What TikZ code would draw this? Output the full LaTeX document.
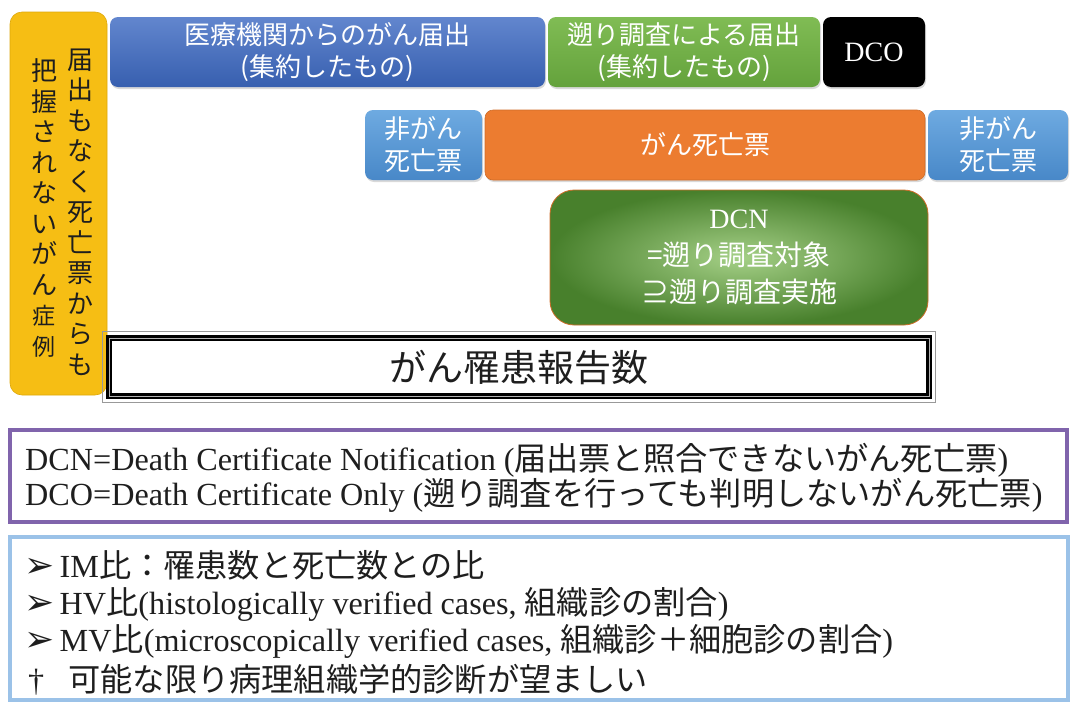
\documentclass[tikz,border=0pt]{standalone}
\usepackage{fontspec}
\setmainfont{Liberation Serif}
\newfontfamily\jp{Noto Sans CJK JP}
\newfontfamily\dv{DejaVu Sans}
\usetikzlibrary{shadows}
\definecolor{cyellow}{RGB}{246,190,20}
\definecolor{cyellowd}{RGB}{222,168,10}
\definecolor{cblue1}{RGB}{98,134,206}
\definecolor{cblue2}{RGB}{55,95,175}
\definecolor{cgreen1}{RGB}{128,188,84}
\definecolor{cgreen2}{RGB}{100,162,60}
\definecolor{corange}{RGB}{236,124,48}
\definecolor{corangeb}{RGB}{206,108,40}
\definecolor{clb1}{RGB}{110,170,225}
\definecolor{clb2}{RGB}{72,136,200}
\definecolor{cdcnin}{RGB}{165,208,135}
\definecolor{cdcnout}{RGB}{72,128,44}
\definecolor{cpurple}{RGB}{128,100,172}
\definecolor{clbline}{RGB}{155,194,232}
\definecolor{ctext}{RGB}{30,30,30}
\tikzset{
  box/.style={rounded corners=8pt, inner sep=0pt, align=center, text=white,
    font=\jp\fontsize{26}{32}\selectfont,
    drop shadow={opacity=0.3, shadow xshift=1pt, shadow yshift=-2pt}},
  bluebox/.style={box, top color=cblue1, bottom color=cblue2},
  greenbox/.style={box, top color=cgreen1, bottom color=cgreen2},
  blackbox/.style={box, fill=black},
  orangebox/.style={box, fill=corange, draw=corangeb, line width=0.6pt},
  lbbox/.style={box, top color=clb1, bottom color=clb2},
  vcol/.style={align=center, inner sep=0pt, text=ctext, font=\jp\fontsize{26}{30.5}\selectfont},
  legend/.style={anchor=west, inner sep=0pt, text=ctext, font=\fontsize{32.2}{34}\selectfont},
}
\newcommand{\arrowmark}{{\dv\fontsize{36}{36}\selectfont ➢}}
\begin{document}
\begin{tikzpicture}[x=1pt,y=-1pt]
\useasboundingbox (0,0) rectangle (1070,702);
% yellow box
\node[draw=cyellowd, fill=cyellow, rounded corners=12pt, minimum width=97pt, minimum height=383pt, line width=0.6pt] (yel) at (58.5,203.5) {};
\node[vcol] (ycolR) at (80,212) {届\\出\\も\\な\\く\\死\\亡\\票\\か\\ら\\も};
\node[vcol] (ycolL) at (44,208) {把\\握\\さ\\れ\\な\\い\\が\\ん\\{\fontsize{23}{30.5}\selectfont 症}\\{\fontsize{23}{30.5}\selectfont 例}};
% top row
\node[bluebox, minimum width=435pt, minimum height=70pt] (med) at (327.5,52) {医療機関からのがん届出\\(集約したもの)};
\node[greenbox, minimum width=272pt, minimum height=70pt] (retro) at (684,52) {遡り調査による届出\\(集約したもの)};
\node[blackbox, minimum width=102pt, minimum height=70pt, font=\fontsize{28}{32}\selectfont] (dco) at (874,52) {DCO};
% second row
\node[lbbox, minimum width=117pt, minimum height=70pt] (nc1) at (423.5,145) {非がん\\死亡票};
\node[orangebox, minimum width=440pt, minimum height=70pt] (cd) at (705,145) {がん死亡票};
\node[lbbox, minimum width=140pt, minimum height=70pt] (nc2) at (998,145) {非がん\\死亡票};
% DCN
\node[rounded corners=24pt, draw=corangeb, line width=0.8pt, inner color=cdcnin, outer color=cdcnout,
  minimum width=378pt, minimum height=135pt, align=center, text=white, inner sep=0pt,
  font=\fontsize{28}{37}\selectfont] (dcn) at (739,257.5) {DCN\\{\jp =遡り調査対象}\\{\jp ⊇遡り調査実施}};
% incidence report count
\node[draw=black, line width=6pt, minimum width=820pt, minimum height=58pt, inner sep=0pt,
  font=\jp\fontsize{37}{40}\selectfont, text=ctext] (inc) at (519,367) {がん罹患報告数};
\draw[gray!80, line width=1.2pt] ([xshift=-3.3pt,yshift=3.3pt]inc.north west) rectangle ([xshift=3.3pt,yshift=-3.3pt]inc.south east);
\draw[gray!60, line width=0.6pt] ([xshift=2.8pt,yshift=-2.8pt]inc.north west) rectangle ([xshift=-2.8pt,yshift=2.8pt]inc.south east);
% definitions box
\node[draw=cpurple, line width=4pt, minimum width=1057pt, minimum height=92pt, inner sep=0pt] (defs) at (538.5,476) {};
\node[legend] (d1) at (25,460) {DCN=Death Certificate Notification ({\jp 届出票と照合できないがん死亡票})};
\node[legend] (d2) at (25,495) {DCO=Death Certificate Only ({\jp 遡り調査を行っても判明しないがん死亡票})};
% notes box
\node[draw=clbline, line width=4pt, minimum width=1058pt, minimum height=163pt, inner sep=0pt] (notes) at (539,618.5) {};
\node[legend] (n1) at (24,565) {\arrowmark\,IM{\jp 比：罹患数と死亡数との比}};
\node[legend] (n2) at (24,604) {\arrowmark\,HV{\jp 比}(histologically verified cases, {\jp 組織診の割合})};
\node[legend] (n3) at (24,641) {\arrowmark\,MV{\jp 比}(microscopically verified cases, {\jp 組織診＋細胞診の割合})};
\node[legend] (n4) at (28,680) {†\ \ \ {\jp 可能な限り病理組織学的診断が望ましい}};
\end{tikzpicture}
\end{document}
